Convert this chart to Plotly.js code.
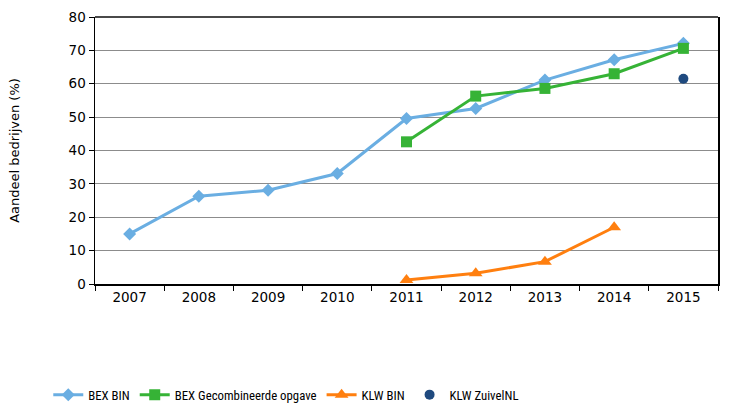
<!DOCTYPE html>
<html>
<head>
<meta charset="utf-8">
<script src="https://cdn.plot.ly/plotly-3.0.1.min.js"></script>
<style>html,body{margin:0;padding:0;background:#fff;}#chart{width:731px;height:404px;}</style>
</head>
<body>
<div id="chart"></div>
<script>
const years = ['2007','2008','2009','2010','2011','2012','2013','2014','2015'];
const bexBin = [15.0, 26.3, 28.1, 33.1, 49.6, 52.6, 61.1, 67.2, 72.1];
const bexGecomb = [null, null, null, null, 42.6, 56.3, 58.6, 63.0, 70.6];
const klwBin = [null, null, null, null, 1.2, 3.2, 6.7, 17.0, null];
const klwZuivel = [null, null, null, null, null, null, null, null, 61.5];
const yTicks = [0,10,20,30,40,50,60,70,80];

const traces = [
  {x: years, y: bexBin, name: 'BEX BIN', type: 'scatter', mode: 'lines+markers',
   line: {color: '#6aaee2', width: 3}, marker: {symbol: 'diamond', size: 10, color: '#6aaee2'}},
  {x: years, y: bexGecomb, name: 'BEX Gecombineerde opgave', type: 'scatter', mode: 'lines+markers',
   line: {color: '#36b336', width: 3}, marker: {symbol: 'square', size: 11, color: '#36b336'}},
  {x: years, y: klwBin, name: 'KLW BIN', type: 'scatter', mode: 'lines+markers',
   line: {color: '#ff7f0f', width: 3}, marker: {symbol: 'triangle-up', size: 12, color: '#ff7f0f'}},
  {x: years, y: klwZuivel, name: 'KLW ZuivelNL', type: 'scatter', mode: 'markers',
   marker: {symbol: 'circle', size: 10, color: '#1f4a7f'}}
];

const layout = {
  width: 731, height: 404,
  margin: {l: 95, r: 13, t: 17, b: 120, autoexpand: false},
  paper_bgcolor: '#ffffff', plot_bgcolor: '#ffffff',
  font: {family: 'DejaVu Sans, Verdana, sans-serif', size: 13, color: '#000'},
  showlegend: true,
  legend: {orientation: 'h', x: -0.075, xanchor: 'left', y: -0.415, yanchor: 'middle',
    font: {family: 'Roboto Condensed, Liberation Sans, sans-serif', size: 12.8, color: '#000'},
    bgcolor: 'rgba(0,0,0,0)'},
  xaxis: {type: 'category', range: [-0.5, 8.5], tickson: 'boundaries', ticks: 'outside', ticklen: 5,
    tickcolor: '#000', showline: true, linecolor: '#000', linewidth: 1.5, showgrid: false,
    zeroline: false, fixedrange: true, tickfont: {size: 13.5}},
  yaxis: {range: [0, 80], tickvals: yTicks, ticks: 'outside', ticklen: 5, tickcolor: '#000',
    showline: true, linecolor: '#000', linewidth: 1.5, mirror: true, showgrid: true, gridcolor: '#8c8c8c',
    gridwidth: 1, zeroline: false, fixedrange: true, tickfont: {size: 13.5},
    title: {text: 'Aandeel bedrijven (%)', font: {size: 13}, standoff: 46}},
  shapes: [{type: 'line', xref: 'paper', yref: 'paper', x0: 0, x1: 1, y0: 1, y1: 1,
    line: {color: '#4a4a4a', width: 2}}]
};

Plotly.newPlot('chart', traces, layout, {displayModeBar: false, staticPlot: true});
</script>
</body>
</html>
